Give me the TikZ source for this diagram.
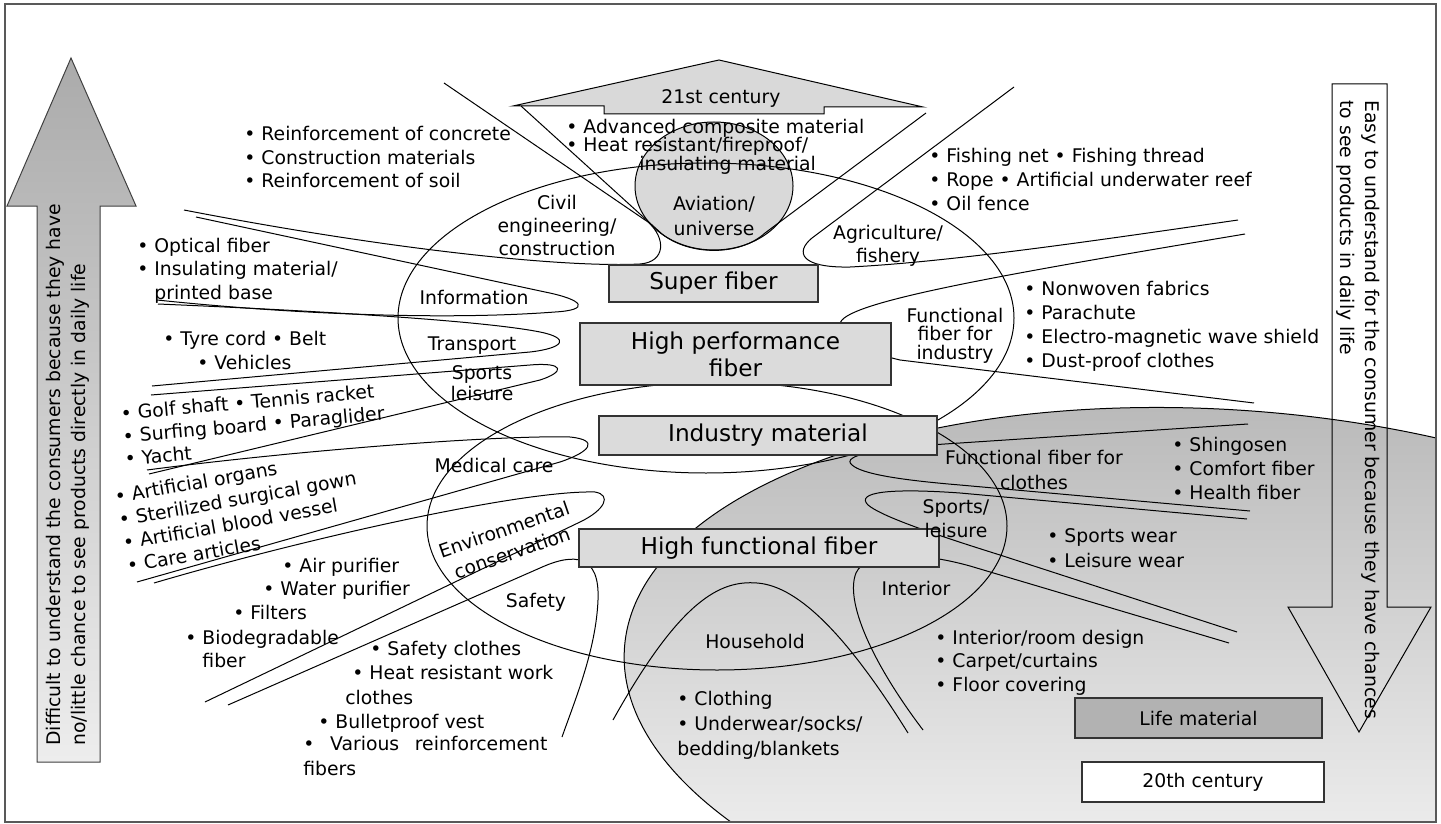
\documentclass[tikz,border=0pt]{standalone}
\usepackage{fontspec}
\setmainfont{DejaVu Sans}
\newcommand\txtsize[1]{\fontsize{9.4}{#1}\selectfont}
\begin{document}
\begin{tikzpicture}[x=0.5pt,y=-0.5pt,
  txt/.style={font=\txtsize{12pt}, inner sep=0pt, align=left, anchor=base west},
  lbl/.style={font=\txtsize{12pt}, inner sep=0pt, align=center, anchor=base},
  fib/.style={draw=black!80, line width=0.7pt, fill=black!14, inner sep=0pt,
              font=\fontsize{11.6}{13.5}\selectfont, align=center},
  era/.style={draw=black!80, line width=0.7pt, inner sep=0pt, font=\txtsize{12pt}},
  crv/.style={line width=0.5pt},
  ]
\useasboundingbox (0,0) rectangle (1441,824);

% shaded background zone of life materials
\begin{scope}
  \clip (5,4) rectangle (1436,822);
  \shade[top color=black!28, bottom color=white, rotate around={-4:(1228,690)}]
    (1228,690) ellipse [x radius=605, y radius=280];
  \draw[crv, rotate around={-4:(1228,690)}]
    (1228,690) ellipse [x radius=605, y radius=280];
\end{scope}

% frame
\draw[black!65, line width=0.8pt] (5,4) rectangle (1436,822);

% side arrows
\shadedraw[top color=black!33, bottom color=black!7, draw=black!75, line width=0.5pt]
  (37,762) -- (37,206) -- (7,206) -- (71,58) -- (136,206) -- (100,206) -- (100,762) -- cycle;
\draw[crv] (1332,84) -- (1387,84) -- (1387,607) -- (1431,607) -- (1359,732)
  -- (1288,607) -- (1332,607) -- cycle;

% 21st century arrow
\draw[crv, fill=black!15] (513,106) -- (719,60) -- (923,107) -- (824,107) -- (824,114)
  -- (604,114) -- (604,106) -- cycle;

% aviation disc
\draw[crv, fill=black!15] (714,186) ellipse [x radius=79, y radius=64];

% the two large application ellipses
\draw[crv] (706,318) ellipse [x radius=308, y radius=155];
\draw[crv] (717,526) ellipse [x radius=290, y radius=144];

% application loops, upper half
\draw[crv] (444,83) -- (648,222) .. controls (666,238) and (666,262) .. (640,264)
  .. controls (560,268) and (380,248) .. (184,210);                       % civil
\draw[crv] (521,106) -- (662,234) .. controls (690,256) and (740,256) .. (765,233)
  -- (926,113);                                                           % aviation
\draw[crv] (1014,87) -- (812,238) .. controls (795,252) and (800,268) .. (850,267)
  .. controls (950,262) and (1100,240) .. (1238,220);                     % agriculture
\draw[crv] (1245,234) .. controls (1000,275) and (860,300) .. (842,320)
  .. controls (830,335) and (850,348) .. (900,360) -- (1254,403);         % industry
\draw[crv] (196,217) -- (545,292) .. controls (585,300) and (590,310) .. (555,312)
  .. controls (450,320) and (300,315) .. (157,300);                       % information
\draw[crv] (158,304) .. controls (300,310) and (480,320) .. (540,332)
  .. controls (570,338) and (565,348) .. (530,352) -- (152,386);          % transport
\draw[crv] (151,395) -- (530,365) .. controls (565,362) and (565,372) .. (540,380)
  -- (149,474);                                                           % sports
% application loops, lower half
\draw[crv] (147,470) .. controls (300,450) and (500,435) .. (570,437)
  .. controls (600,440) and (590,452) .. (560,462) -- (137,582);          % medical
\draw[crv] (154,583) .. controls (300,540) and (520,490) .. (595,492)
  .. controls (612,495) and (605,510) .. (580,522) -- (205,702);          % environment
\draw[crv] (228,705) -- (540,568) .. controls (575,552) and (600,555) .. (598,600)
  .. controls (596,650) and (575,700) .. (562,737);                       % safety
\draw[crv] (613,720) .. controls (680,600) and (720,580) .. (757,583)
  .. controls (800,586) and (850,640) .. (908,733);                       % household
\draw[crv] (923,730) .. controls (870,660) and (845,600) .. (856,573)
  .. controls (866,550) and (920,552) .. (970,566) -- (1229,643);         % interior
\draw[crv] (1247,519) -- (960,493) .. controls (890,488) and (855,492) .. (868,505)
  .. controls (880,515) and (920,530) .. (1000,555) -- (1237,632);        % sports/leisure
\draw[crv] (1248,424) -- (960,443) .. controls (880,448) and (840,455) .. (852,465)
  .. controls (862,474) and (900,480) .. (960,485) -- (1250,511);         % clothes

% fibre class boxes
\node[fib, minimum width=104.5pt, minimum height=18.5pt] (super) at (713.5,283.5) {Super fiber};
\node[fib, minimum width=155.5pt, minimum height=31pt] (perf) at (735.5,354) {High performance\\fiber};
\node[fib, minimum width=169pt, minimum height=19.5pt] (indus) at (768,435.5) {Industry material};
\node[fib, minimum width=180pt, minimum height=19pt] (func) at (759,548) {High functional fiber};
\node[era, fill=black!30, minimum width=123.5pt, minimum height=20pt] (life) at (1198.5,718) {Life material};
\node[era, fill=white, minimum width=121pt, minimum height=20pt] (c20) at (1203,782) {20th century};
\node[lbl, font=\txtsize{12pt}] (c21) at (721,104) {21st century};

% arrow captions
\node[txt, rotate=90, anchor=north west, font=\txtsize{12.5pt}] (hard) at (46,746)
  {Difficult to understand the consumers because they have\\no/little chance to see products directly in daily life};
\node[txt, rotate=-90, anchor=north west, font=\txtsize{12.5pt}] (easy) at (1380,100)
  {Easy to understand for the consumer because they have chances\\to see products in daily life};

% application labels (anchored on the baseline of their last line)
\node[lbl, font=\txtsize{11.75pt}] (civil) at (557,256) {Civil\\engineering/\\construction};
\node[lbl, font=\txtsize{12.5pt}] (avia) at (714,235) {Aviation/\\universe};
\node[lbl, font=\txtsize{11.5pt}] (agri) at (888,262) {Agriculture/\\fishery};
\node[lbl] (info) at (474,304) {Information};
\node[lbl] (trans) at (472,350) {Transport};
\node[lbl, font=\txtsize{8pt}] (sport) at (482,400) {Sports\\leisure};
\node[lbl] (med) at (494,472) {Medical care};
\node[lbl, anchor=center, rotate=19, font=\txtsize{12.3pt}] (env) at (508,541) {Environmental\\conservation};
\node[lbl] (safe) at (536,607) {Safety};
\node[lbl] (house) at (755,648) {Household};
\node[lbl] (inter) at (916,595) {Interior};
\node[lbl, font=\txtsize{12.5pt}] (fclo) at (1034,489) {Functional fiber for\\clothes};
\node[lbl] (sportb) at (956,537) {Sports/\\leisure};
\node[lbl, font=\txtsize{9.25pt}] (find) at (955,359) {Functional\\fiber for\\industry};

% product lists (anchored on the baseline of their last line)
\node[txt] (l1) at (244,188) {• Reinforcement of concrete\\• Construction materials\\• Reinforcement of soil};
\node[txt, font=\txtsize{9.25pt}] (l2) at (566,170) {• Advanced composite material\\• Heat resistant/fireproof/\\\hspace*{36.5pt}insulating material};
\node[txt] (l3) at (929,210) {• Fishing net • Fishing thread\\• Rope • Artificial underwater reef\\• Oil fence};
\node[txt, font=\txtsize{11.75pt}] (l4) at (137,299) {• Optical fiber\\• Insulating material/\\\phantom{• }printed base};
\node[txt] (l5) at (163,369) {• Tyre cord • Belt\\\hspace*{17pt}• Vehicles};
\node[txt, rotate=5, font=\txtsize{11.5pt}] (l6) at (125,466) {• Golf shaft • Tennis racket\\• Surfing board • Paraglider\\• Yacht};
\node[txt, rotate=10, font=\txtsize{11.75pt}] (l7) at (128,573) {• Artificial organs\\• Sterilized surgical gown\\• Artificial blood vessel\\• Care articles};
\node[txt] (l8a) at (282,572) {• Air purifier};
\node[txt] (l8b) at (263,595) {• Water purifier};
\node[txt] (l8c) at (233,619) {• Filters};
\node[txt, font=\txtsize{11.5pt}] (l8d) at (185,667) {• Biodegradable\\\phantom{• }fiber};
\node[txt] (l9a) at (370,655) {• Safety clothes};
\node[txt, font=\txtsize{12.5pt}] (l9b) at (352,704) {• Heat resistant work\\\hspace*{-3.5pt}clothes};
\node[txt] (l9c) at (318,728) {• Bulletproof vest};
\node[txt, font=\txtsize{12.5pt}] (l9d) at (303,775) {\makebox[122pt][s]{• Various reinforcement}\\fibers};
\node[txt] (l10) at (1024,367) {• Nonwoven fabrics\\• Parachute\\• Electro-magnetic wave shield\\• Dust-proof clothes};
\node[txt] (l11) at (1172,499) {• Shingosen\\• Comfort fiber\\• Health fiber};
\node[txt, font=\txtsize{12.5pt}] (l12) at (1047,567) {• Sports wear\\• Leisure wear};
\node[txt, font=\txtsize{11.75pt}] (l13) at (935,691) {• Interior/room design\\• Carpet/curtains\\• Floor covering};
\node[txt, font=\txtsize{12.5pt}] (l14) at (677,755) {• Clothing\\• Underwear/socks/\\bedding/blankets};
\end{tikzpicture}
\end{document}
